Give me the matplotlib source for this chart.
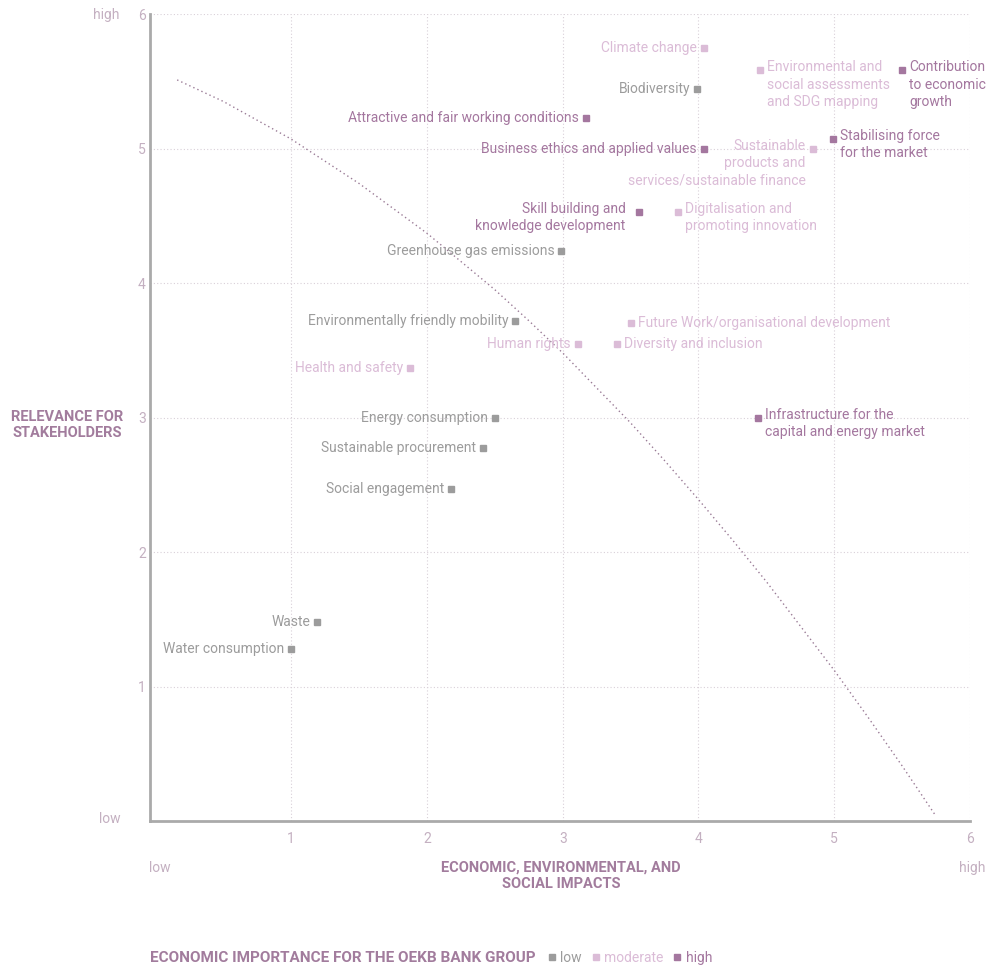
import matplotlib.pyplot as plt
from matplotlib.lines import Line2D

plt.rcParams['font.family'] = ['Roboto', 'DejaVu Sans']

# topics: x = economic/environmental/social impact, y = relevance for stakeholders
temas = [
    "Climate change", "Biodiversity",
    "Environmental and\nsocial assessments\nand SDG mapping",
    "Contribution\nto economic\ngrowth",
    "Attractive and fair working conditions",
    "Business ethics and applied values",
    "Sustainable\nproducts and\nservices/sustainable finance",
    "Stabilising force\nfor the market",
    "Skill building and\nknowledge development",
    "Digitalisation and\npromoting innovation",
    "Greenhouse gas emissions",
    "Environmentally friendly mobility",
    "Future Work/organisational development",
    "Human rights", "Diversity and inclusion", "Health and safety",
    "Energy consumption",
    "Infrastructure for the\ncapital and energy market",
    "Sustainable procurement", "Social engagement",
    "Waste", "Water consumption",
]
impacto = [4.04, 3.99, 4.45, 5.50, 3.17, 4.04, 4.84, 4.99, 3.56, 3.85, 2.99,
           2.65, 3.50, 3.11, 3.40, 1.875, 2.50, 4.44, 2.41, 2.18, 1.19, 1.00]
relevancia = [5.75, 5.44, 5.58, 5.58, 5.23, 5.00, 5.00, 5.07, 4.53, 4.53, 4.24,
              3.72, 3.70, 3.55, 3.55, 3.37, 3.00, 3.00, 2.77, 2.47, 1.48, 1.28]
importancia = ["moderate", "low", "moderate", "high", "high", "high", "moderate",
               "high", "high", "moderate", "low", "low", "moderate", "moderate",
               "moderate", "moderate", "low", "high", "low", "low", "low", "low"]
lado = ["l", "l", "r", "r", "l", "l", "l", "r", "l", "r", "l",
        "l", "r", "l", "r", "l", "l", "r", "l", "l", "l", "l"]

# dotted threshold curve
curva_x = [0.16, 0.5, 1.0, 1.5, 2.0, 2.25, 2.5, 2.75, 3.0, 3.25, 3.5,
           3.75, 4.0, 4.25, 4.5, 4.75, 5.0, 5.25, 5.5, 5.74]
curva_y = [5.51, 5.35, 5.07, 4.74, 4.37, 4.16, 3.95, 3.72, 3.48, 3.22, 2.96,
           2.68, 2.39, 2.09, 1.78, 1.45, 1.12, 0.77, 0.41, 0.05]

colores = {"low": "#9c9c9c", "moderate": "#dbbcd7", "high": "#a4779f"}
morado = "#a27c9d"
tick_color = "#c4b0c1"

fig = plt.figure(figsize=(9.88, 9.71), dpi=100)
ax = fig.add_axes([150 / 988, 1 - 821 / 971, 820 / 988, 807 / 971])
ax.set_xlim(-0.04, 6)
ax.set_ylim(0, 6)

for v in range(1, 7):
    ax.axvline(v, color="#d9d0d8", lw=0.8, ls=(0, (1, 2)), zorder=0)
    ax.axhline(v, color="#d9d0d8", lw=0.8, ls=(0, (1, 2)), zorder=0)

ax.plot(curva_x, curva_y, color="#9a7b96", lw=1.0, ls=(0, (1, 2.2)), zorder=1)

for nombre, x, y, nivel, s in zip(temas, impacto, relevancia, importancia, lado):
    c = colores[nivel]
    ax.plot(x, y, marker="s", ms=4.5, color=c, ls="none", zorder=3)
    multilinea = "\n" in nombre
    if s == "l":
        dx, ha = -7, "right"
    else:
        dx, ha = 7, "left"
    if nombre.startswith("Skill"):
        dx = -13
    if multilinea:
        ax.annotate(nombre, (x, y), xytext=(dx, 10), textcoords="offset pixels",
                    ha=ha, va="top", multialignment=ha, color=c, fontsize=10,
                    linespacing=1.3, annotation_clip=False)
    else:
        ax.annotate(nombre, (x, y), xytext=(dx, 0), textcoords="offset pixels",
                    ha=ha, va="center", color=c, fontsize=10,
                    annotation_clip=False)

ax.set_xticks(range(1, 7))
ax.set_yticks(range(1, 7))
ax.tick_params(length=0, colors=tick_color, labelsize=10)
ax.tick_params(axis="x", pad=8)
ax.tick_params(axis="y", pad=3)
for lado_eje in ["top", "right"]:
    ax.spines[lado_eje].set_visible(False)
for lado_eje in ["left", "bottom"]:
    ax.spines[lado_eje].set_color("#aaaaaa")
    ax.spines[lado_eje].set_linewidth(2)

# low / high markers on the axes
fig.text(106 / 988, 1 - 15 / 971, "high", color=tick_color, fontsize=10, ha="center", va="center")
fig.text(110 / 988, 1 - 819 / 971, "low", color=tick_color, fontsize=10, ha="center", va="center")
fig.text(160 / 988, 1 - 868 / 971, "low", color=tick_color, fontsize=10, ha="center", va="center")
fig.text(972 / 988, 1 - 868 / 971, "high", color=tick_color, fontsize=10, ha="center", va="center")

fig.text(67 / 988, 1 - 425 / 971, "RELEVANCE FOR\nSTAKEHOLDERS", color=morado,
         fontsize=10.5, fontweight="bold", ha="center", va="center", linespacing=1.2)
fig.text(561 / 988, 1 - 876 / 971, "ECONOMIC, ENVIRONMENTAL, AND\nSOCIAL IMPACTS", color=morado,
         fontsize=10.5, fontweight="bold", ha="center", va="center", linespacing=1.2)

# legend
fig.text(150 / 988, 1 - 958 / 971, "ECONOMIC IMPORTANCE FOR THE OEKB BANK GROUP", color=morado,
         fontsize=11, fontweight="bold", ha="left", va="center")
niveles = ["low", "moderate", "high"]
handles = [Line2D([], [], marker="s", ms=4.5, color=colores[n], ls="none") for n in niveles]
leg = fig.legend(handles, niveles, loc="center left", bbox_to_anchor=(545 / 988, 1 - 958 / 971),
                 ncol=3, frameon=False, fontsize=10, handletextpad=0.1, columnspacing=0.5,
                 handlelength=1.0, borderaxespad=0, borderpad=0)
for t, n in zip(leg.get_texts(), niveles):
    t.set_color(colores[n])

fig.savefig("out.png", dpi=100)
